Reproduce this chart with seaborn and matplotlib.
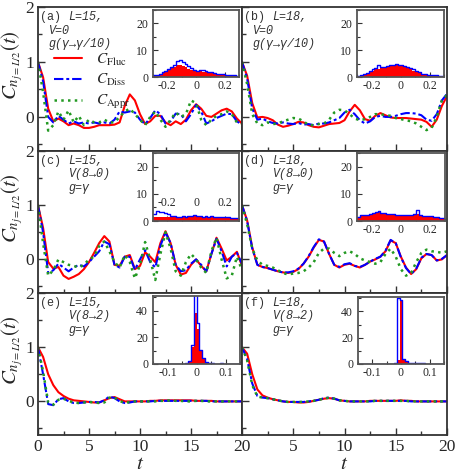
import numpy as np
import pandas as pd
import matplotlib
matplotlib.use('Agg')
import matplotlib.pyplot as plt
from matplotlib.lines import Line2D
from matplotlib.ticker import MultipleLocator, FixedLocator
import seaborn as sns

sns.set_style('ticks')
plt.rcParams['font.family'] = ['Liberation Serif', 'DejaVu Serif']
plt.rcParams['mathtext.fontset'] = 'stix'
plt.rcParams['axes.unicode_minus'] = False

# time grid of the curves
t = np.arange(0, 20.01, 0.5)

# (a) L=15, V=0, g(gamma -> gamma/10)
fluc_a = [1.0, 0.72, 0.15, -0.08, -0.03, -0.08, -0.15, -0.12, -0.15, -0.2,
          -0.2, -0.18, -0.15, -0.15, -0.15, -0.14, -0.1, 0.2, 0.41, 0.3,
          0.05, -0.13, -0.08, 0.02, 0.02, -0.1, -0.15, -0.08, -0.13, -0.05,
          0.12, 0.23, 0.15, 0.02, 0.0, 0.06, 0.12, 0.15, 0.1, -0.03, -0.12]
diss_a = [1.0, 0.65, 0.0, -0.1, 0.02, -0.05, -0.12, -0.08, -0.12, -0.1,
          -0.12, -0.1, -0.12, -0.1, -0.12, -0.05, 0.1, 0.08, 0.1, 0.08,
          -0.05, -0.13, -0.02, 0.12, 0.05, -0.12, -0.08, 0.06, 0.05, -0.08,
          0.05, 0.22, 0.1, -0.12, -0.08, -0.02, 0.02, 0.06, 0.05, -0.08, -0.14]
appr_a = [1.0, 0.45, -0.25, -0.15, 0.1, -0.05, 0.12, -0.1, 0.02, -0.15,
          -0.05, -0.1, -0.1, -0.05, -0.1, -0.1, 0.0, 0.1, 0.15, 0.05,
          -0.05, -0.15, 0.0, 0.1, -0.05, -0.18, -0.05, 0.08, 0.0, 0.05,
          0.3, 0.25, -0.05, -0.15, -0.05, 0.02, 0.05, 0.1, 0.05, -0.1, -0.12]

# (b) L=18, V=0, g(gamma -> gamma/10)
fluc_b = [1.0, 0.75, 0.25, -0.01, 0.0, -0.02, -0.06, -0.14, -0.18, -0.16,
          -0.13, -0.09, -0.1, -0.15, -0.18, -0.19, -0.16, -0.13, -0.12, -0.11,
          -0.06, 0.1, 0.22, 0.12, -0.04, -0.07, 0.02, 0.07, 0.03, -0.01,
          -0.02, -0.02, -0.02, -0.03, -0.04, -0.05, -0.09, -0.18, -0.05, 0.2, 0.38]
diss_b = [1.0, 0.7, 0.15, -0.05, -0.03, -0.08, -0.11, -0.12, -0.1, -0.12,
          -0.13, -0.11, -0.14, -0.13, -0.15, -0.12, -0.12, -0.1, -0.06, -0.02,
          0.08, 0.13, 0.05, -0.06, -0.12, -0.08, 0.0, 0.02, 0.0, 0.0,
          0.02, 0.05, 0.07, 0.07, 0.06, 0.03, -0.05, -0.07, 0.05, 0.3, 0.42]
appr_b = [1.0, 0.6, 0.05, -0.12, -0.15, -0.1, -0.13, -0.12, -0.08, -0.05,
          -0.02, -0.03, -0.08, -0.15, -0.15, -0.13, -0.12, -0.05, 0.08, 0.13,
          0.12, 0.05, -0.03, -0.06, -0.04, 0.0, 0.05, 0.05, 0.03, 0.02,
          -0.02, -0.04, -0.06, -0.08, -0.12, -0.18, -0.24, -0.2, 0.0, 0.3, 0.4]

# (c) L=15, V(8 -> 0), g=gamma
fluc_c = [1.0, 0.58, -0.05, -0.17, -0.14, -0.3, -0.36, -0.32, -0.27, -0.18,
          -0.05, 0.12, 0.3, 0.43, 0.33, -0.1, -0.12, 0.05, 0.08, -0.18,
          -0.12, 0.13, 0.05, -0.05, 0.3, 0.52, 0.3, -0.1, -0.28, -0.25,
          -0.1, 0.0, -0.12, -0.22, 0.1, 0.4, 0.2, -0.02, 0.05, 0.14, -0.12]
diss_c = [1.0, 0.5, -0.25, -0.2, -0.08, -0.15, -0.22, -0.15, -0.1, -0.13,
          -0.05, 0.05, 0.15, 0.33, 0.28, -0.1, -0.15, 0.05, 0.05, -0.19,
          0.0, 0.17, -0.05, -0.15, 0.25, 0.5, 0.3, -0.1, -0.22, -0.2,
          -0.08, 0.0, -0.1, -0.22, 0.1, 0.38, 0.15, -0.13, 0.05, 0.12, -0.08]
appr_c = [1.0, 0.3, -0.3, -0.2, 0.0, -0.05, -0.1, -0.12, -0.15, -0.1,
          0.0, 0.05, 0.25, 0.33, 0.15, -0.05, -0.15, 0.08, -0.05, -0.35,
          -0.1, 0.32, 0.0, -0.38, 0.1, 0.5, 0.2, -0.22, -0.3, -0.05,
          0.1, 0.0, -0.15, -0.25, 0.15, 0.4, 0.0, -0.35, -0.3, 0.05, -0.2]

# (d) L=18, V(8 -> 0), g=gamma
fluc_d = [1.0, 0.72, 0.22, -0.1, -0.14, -0.16, -0.19, -0.22, -0.24, -0.25,
          -0.23, -0.18, -0.08, 0.05, 0.22, 0.36, 0.33, 0.1, -0.1, -0.15,
          -0.1, -0.08, -0.12, -0.15, -0.1, -0.04, 0.0, 0.05, 0.15, 0.35,
          0.3, 0.05, -0.15, -0.27, -0.18, 0.02, 0.1, 0.08, -0.02, 0.0, 0.08]
diss_d = [1.0, 0.71, 0.2, -0.1, -0.14, -0.16, -0.19, -0.22, -0.24, -0.24,
          -0.22, -0.17, -0.08, 0.06, 0.23, 0.37, 0.33, 0.1, -0.1, -0.14,
          -0.09, -0.07, -0.12, -0.14, -0.1, -0.04, 0.01, 0.05, 0.16, 0.36,
          0.3, 0.04, -0.16, -0.27, -0.17, 0.03, 0.1, 0.08, -0.02, 0.01, 0.08]
appr_d = [1.0, 0.65, 0.2, -0.02, -0.1, -0.12, -0.15, -0.2, -0.25, -0.28,
          -0.26, -0.25, -0.22, -0.15, -0.05, 0.12, 0.2, 0.2, 0.12, 0.06,
          0.12, 0.15, 0.1, 0.02, -0.02, -0.05, -0.08, -0.05, 0.1, 0.2,
          0.05, -0.18, -0.3, -0.25, -0.05, 0.12, 0.18, 0.15, 0.14, 0.12, 0.15]

# (e) L=15, V(8 -> 2), g=gamma
fluc_e = [1.0, 0.82, 0.5, 0.3, 0.17, 0.1, 0.05, 0.02, 0.01, 0.0,
          -0.01, -0.02, -0.02, 0.02, 0.06, 0.08, 0.04, 0.0, 0.0, 0.0,
          0.0, 0.0, 0.01, 0.01, 0.02, 0.02, 0.02, 0.02, 0.02, 0.02,
          0.02, 0.01, 0.01, 0.01, 0.01, 0.0, 0.0, 0.0, 0.0, 0.0, 0.0]
diss_e = [1.0, 0.5, -0.05, -0.07, 0.04, 0.06, 0.0, -0.03, -0.03, -0.02,
          -0.01, -0.01, -0.02, 0.02, 0.09, 0.06, 0.0, -0.03, -0.02, 0.0,
          0.0, 0.0, 0.0, 0.01, 0.01, 0.01, 0.01, 0.01, 0.01, 0.01,
          0.01, 0.01, 0.01, 0.01, 0.0, 0.0, 0.0, 0.0, 0.0, 0.0, 0.0]
appr_e = [1.0, 0.55, -0.02, -0.06, 0.03, 0.05, 0.01, -0.02, -0.03, -0.02,
          -0.01, -0.02, -0.03, -0.02, 0.07, 0.07, 0.01, -0.03, -0.01, 0.0,
          0.0, 0.0, 0.0, 0.0, 0.01, 0.01, 0.02, 0.01, 0.01, 0.0,
          0.0, 0.01, 0.01, 0.0, 0.0, 0.0, 0.0, 0.0, 0.0, 0.0, 0.0]

# (f) L=18, V(8 -> 2), g=gamma
fluc_f = [1.0, 0.88, 0.5, 0.22, 0.11, 0.07, 0.04, 0.02, 0.0, -0.01,
          -0.01, -0.02, -0.02, -0.01, 0.01, 0.03, 0.05, 0.06, 0.05, 0.02,
          0.01, 0.0, 0.0, 0.0, 0.0, 0.01, 0.01, 0.01, 0.01, 0.01,
          0.01, 0.02, 0.01, 0.01, 0.0, 0.0, 0.0, 0.0, 0.0, 0.0, 0.0]
diss_f = [1.0, 0.78, 0.33, 0.1, 0.07, 0.06, 0.04, 0.02, 0.0, -0.01,
          -0.01, -0.01, -0.01, 0.0, 0.01, 0.03, 0.06, 0.07, 0.05, 0.02,
          0.01, 0.0, 0.0, 0.0, 0.0, 0.0, 0.01, 0.01, 0.01, 0.01,
          0.01, 0.01, 0.01, 0.0, 0.0, 0.0, 0.0, 0.0, 0.0, 0.0, 0.0]
appr_f = [1.0, 0.76, 0.3, 0.09, 0.07, 0.06, 0.04, 0.02, 0.0, -0.01,
          -0.01, -0.01, -0.01, 0.0, 0.01, 0.03, 0.05, 0.07, 0.05, 0.02,
          0.01, 0.0, 0.0, 0.0, 0.0, 0.0, 0.01, 0.01, 0.01, 0.01,
          0.01, 0.01, 0.01, 0.0, 0.0, 0.0, 0.0, 0.0, 0.0, 0.0, 0.0]

# inset histograms, panels a-d: 30 bins of 0.02 on [-0.3, 0.3]
edges_wide = np.linspace(-0.3, 0.3, 31)
hist_red_a = [0.5, 0.8, 1.2, 1.6, 2.2, 2.8, 3.3, 3.8, 4.3, 4.5,
              4.2, 3.6, 3.0, 2.6, 2.2, 2.0, 2.1, 1.9, 1.8, 1.7,
              1.6, 1.5, 1.3, 1.1, 1.0, 0.9, 0.8, 0.7, 0.6, 0.5]
hist_blue_a = [0.6, 0.9, 1.3, 1.8, 2.4, 3.0, 3.8, 4.6, 5.8, 6.2,
               5.5, 5.0, 4.0, 3.2, 2.6, 2.4, 2.6, 2.5, 2.3, 2.0,
               1.8, 1.5, 1.3, 1.2, 1.0, 0.9, 0.8, 0.7, 0.6, 0.5]
hist_red_b = [0.4, 0.6, 1.0, 1.5, 2.0, 2.4, 2.8, 3.0, 3.2, 3.4,
              3.8, 4.2, 4.6, 5.0, 4.6, 4.2, 3.8, 3.3, 2.8, 2.3,
              1.9, 1.5, 1.2, 1.0, 0.8, 0.7, 0.6, 0.5, 0.4, 0.3]
hist_blue_b = [0.5, 0.7, 1.1, 1.6, 2.2, 2.8, 3.5, 4.5, 3.8, 3.6,
               4.0, 4.3, 4.5, 4.8, 4.4, 4.5, 4.0, 3.8, 3.2, 3.0,
               2.2, 1.7, 1.3, 1.1, 0.9, 0.8, 0.7, 0.6, 0.5, 0.4]
hist_red_c = [1.5, 1.6, 1.5, 1.6, 1.5, 1.4, 1.5, 1.6, 1.4, 1.5,
              1.6, 1.5, 1.7, 1.6, 1.8, 1.7, 1.6, 1.5, 1.6, 1.5,
              1.4, 1.5, 1.3, 1.4, 1.3, 1.2, 1.2, 1.1, 1.1, 1.0]
hist_blue_c = [2.5, 3.5, 3.4, 3.2, 2.8, 2.4, 2.0, 1.8, 1.6, 1.6,
               1.7, 1.6, 1.8, 1.7, 2.2, 1.9, 1.7, 1.6, 1.7, 1.6,
               1.8, 1.6, 1.4, 1.5, 1.4, 1.3, 1.3, 1.2, 1.2, 1.1]
hist_red_d = [1.5, 2.0, 2.2, 2.0, 2.5, 2.8, 3.0, 3.2, 3.0, 2.8,
              2.6, 2.5, 2.3, 2.2, 2.0, 2.0, 2.1, 2.0, 2.2, 2.3,
              2.6, 2.0, 1.8, 1.7, 1.6, 1.6, 1.5, 1.3, 1.1, 1.0]
hist_blue_d = [1.6, 2.1, 2.3, 2.1, 2.6, 2.9, 3.3, 3.5, 3.1, 2.9,
               2.7, 2.6, 2.4, 2.3, 2.1, 2.1, 2.2, 2.1, 2.3, 2.4,
               4.0, 2.1, 1.9, 1.8, 1.7, 1.7, 1.6, 1.4, 1.2, 1.1]

# panel e: 30 bins of 0.01 on [-0.15, 0.15]
edges_e = np.linspace(-0.15, 0.15, 31)
hist_red_e = [0, 0, 0, 0, 0, 0, 0, 0, 0, 0,
              0.3, 0.8, 2.3, 13, 38, 26, 10.5, 4.5, 1.5, 0.8,
              0.5, 0.3, 0.2, 0, 0, 0, 0, 0, 0, 0]
hist_blue_e = [0, 0, 0, 0, 0, 0, 0, 0, 0, 0,
               0.3, 0.8, 2.3, 14, 62, 31, 10.5, 4.5, 1.5, 0.8,
               0.5, 0.3, 0.2, 1.0, 0, 0, 0, 0, 0, 0]
# panel f: 31 bins of 0.01 centred on multiples of 0.01
edges_f = np.linspace(-0.155, 0.155, 32)
hist_red_f = [0, 0, 0, 0, 0, 0, 0, 0, 0, 0,
              0, 0, 0, 1.0, 3.0, 49, 4.0, 2.0, 1.0, 0.6,
              0.5, 0.4, 0.3, 0.3, 0, 0, 0, 0, 0, 0, 0]
hist_blue_f = [0, 0, 0, 0, 0, 0, 0, 0, 0, 0,
               0, 0, 0, 1.0, 50, 49, 3.5, 2.0, 1.0, 0.8,
               0.8, 0.8, 0.6, 0.5, 0, 0, 0, 0, 0, 0, 0]

RED, BLUE, GREEN = '#ff0000', '#0000ff', '#229922'
DARK = '#333333'
DISS_LS = (0, (4.5, 1.4, 1.4, 1.4))
APPR_LS = (0, (1, 1.7))

W, H = 457, 476
fig = plt.figure(figsize=(W / 100, H / 100), dpi=100)


def px_rect(x0, y0, x1, y1):
    return [x0 / W, 1 - y1 / H, (x1 - x0) / W, (y1 - y0) / H]


def draw_main(rect, fluc, diss, appr, col, row):
    ax = fig.add_axes(px_rect(*rect))
    sns.lineplot(x=t, y=fluc, ax=ax, color=RED, lw=1.5)
    sns.lineplot(x=t, y=diss, ax=ax, color=BLUE, lw=1.5, ls=DISS_LS)
    sns.lineplot(x=t, y=appr, ax=ax, color=GREEN, lw=1.8, ls=APPR_LS)
    ax.set_xlim(0, 20)
    ax.set_ylim(-0.62, 2.0)
    ax.xaxis.set_major_locator(MultipleLocator(5))
    ax.xaxis.set_minor_locator(MultipleLocator(2.5))
    ax.yaxis.set_major_locator(FixedLocator([0, 1, 2]))
    ax.yaxis.set_minor_locator(FixedLocator([-0.5, 0.5, 1.5]))
    ax.tick_params(which='both', direction='in', color=DARK, width=1)
    ax.tick_params(which='major', length=5, labelsize=12.5, pad=3)
    ax.tick_params(which='minor', length=3)
    for s in ax.spines.values():
        s.set_color(DARK)
        s.set_linewidth(1.3)
    ax.set_xlabel('')
    ax.set_ylabel('')
    if col == 0:
        ax.set_ylabel(r'$C_{n_{j=L/2}}(t)$', fontsize=15)
        ax.yaxis.set_label_coords(-0.065, 0.6)
    else:
        ax.tick_params(labelleft=False)
    if row < 2:
        ax.tick_params(labelbottom=False)
    else:
        ax.set_xticks([0, 5, 10, 15, 20])
        ax.set_xticklabels(['0', '5', '10', '15', '20'] if col == 0 else ['', '5', '10', '15', '20'])
        ax.set_xlabel('$t$', fontsize=15, labelpad=0)
    return ax


def draw_inset(rect, edges, red, blue, xlim, ylim, xmaj, xmin, ymaj, ymin, pad=2):
    axin = fig.add_axes(px_rect(*rect))
    centers = (edges[:-1] + edges[1:]) / 2
    hist = pd.DataFrame({'x': centers, 'red': red, 'blue': blue})
    bin_list = [float(e) for e in edges]
    sns.histplot(data=hist, x='x', weights='blue', bins=bin_list, element='step', fill=False,
                 color=BLUE, linewidth=1.0, ax=axin)
    sns.histplot(data=hist, x='x', weights='red', bins=bin_list, element='bars', fill=True,
                 color=RED, alpha=1, linewidth=0, ax=axin)
    axin.set_xlim(*xlim)
    axin.set_ylim(*ylim)
    axin.set_xlabel('')
    axin.set_ylabel('')
    axin.xaxis.set_major_locator(MultipleLocator(xmaj))
    axin.xaxis.set_minor_locator(MultipleLocator(xmin))
    axin.yaxis.set_major_locator(MultipleLocator(ymaj))
    axin.yaxis.set_minor_locator(MultipleLocator(ymin))
    axin.xaxis.set_major_formatter(lambda v, p: '0' if abs(v) < 1e-9 else f'{v:g}')
    axin.tick_params(which='both', direction='in', color=DARK, width=0.8, labelsize=8.5)
    axin.tick_params(which='major', length=3.5)
    axin.tick_params(which='minor', length=2)
    axin.tick_params(axis='x', pad=pad)
    for s in axin.spines.values():
        s.set_color('#555555')
        s.set_linewidth(1.3)
    return axin


def annotate(ax, tag, first, second, third, indent):
    kw = dict(transform=ax.transAxes, va='center', ha='left', fontsize=8.5,
              color=DARK, family=['Liberation Mono', 'DejaVu Sans Mono'])
    w, h = ax.bbox.width, ax.bbox.height
    x0 = 2.5 / w
    ax.text(x0, 1 - 10 / h, tag, **kw)
    ax.text(x0 + 28 / w, 1 - 10 / h, first, style='italic', **kw)
    ax.text(x0 + indent / w, 1 - 23.5 / h, second, style='italic', **kw)
    ax.text(x0 + indent / w, 1 - 37 / h, third, style='italic', **kw)


rows = [(7, 151), (151, 293), (293, 435)]
cols = [(38, 242), (242, 447)]
main_data = [[(fluc_a, diss_a, appr_a), (fluc_b, diss_b, appr_b)],
             [(fluc_c, diss_c, appr_c), (fluc_d, diss_d, appr_d)],
             [(fluc_e, diss_e, appr_e), (fluc_f, diss_f, appr_f)]]
axes = {}
for r, (y0, y1) in enumerate(rows):
    for c, (x0, x1) in enumerate(cols):
        axes[(r, c)] = draw_main((x0, y0, x1, y1), *main_data[r][c], c, r)

annotate(axes[(0, 0)], '(a)', 'L=15,', 'V=0', 'g(γ→γ/10)', 8)
annotate(axes[(0, 1)], '(b)', 'L=18,', 'V=0', 'g(γ→γ/10)', 8)
annotate(axes[(1, 0)], '(c)', 'L=15,', 'V(8→0)', 'g=γ', 28)
annotate(axes[(1, 1)], '(d)', 'L=18,', 'V(8→0)', 'g=γ', 28)
annotate(axes[(2, 0)], '(e)', 'L=15,', 'V(8→2)', 'g=γ', 28)
annotate(axes[(2, 1)], '(f)', 'L=18,', 'V(8→2)', 'g=γ', 28)

handles = [Line2D([], [], color=RED, lw=1.5),
           Line2D([], [], color=BLUE, lw=1.5, ls=DISS_LS),
           Line2D([], [], color=GREEN, lw=1.8, ls=APPR_LS)]
labels = [r'$C_{\rm Fluc}$', r'$C_{\rm Diss}$', r'$C_{\rm Appr}$']
axes[(0, 0)].legend(handles, labels, loc='upper left', bbox_to_anchor=(0.08, 0.69),
                    frameon=False, fontsize=11, handlelength=1.8, handletextpad=0.9,
                    labelspacing=0.3, borderpad=0, borderaxespad=0)

draw_inset((153, 10, 239, 77), edges_wide, hist_red_a, hist_blue_a, (-0.3, 0.3), (0, 25), 0.2, 0.1, 10, 5)
draw_inset((357, 10, 444, 77), edges_wide, hist_red_b, hist_blue_b, (-0.3, 0.3), (0, 25), 0.2, 0.1, 10, 5)
draw_inset((153, 153, 239, 221), edges_wide, hist_red_c, hist_blue_c, (-0.3, 0.3), (0, 25), 0.2, 0.1, 10, 5, pad=-17)
draw_inset((357, 153, 445, 221), edges_wide, hist_red_d, hist_blue_d, (-0.3, 0.3), (0, 25), 0.2, 0.1, 10, 5)
draw_inset((153, 296, 240, 364), edges_e, hist_red_e, hist_blue_e, (-0.15, 0.15), (0, 51), 0.1, 0.05, 20, 10)
draw_inset((358, 297, 444, 364), edges_f, hist_red_f, hist_blue_f, (-0.15, 0.15), (0, 51), 0.1, 0.05, 20, 10)

fig.savefig('out.png', dpi=100, facecolor='white')
